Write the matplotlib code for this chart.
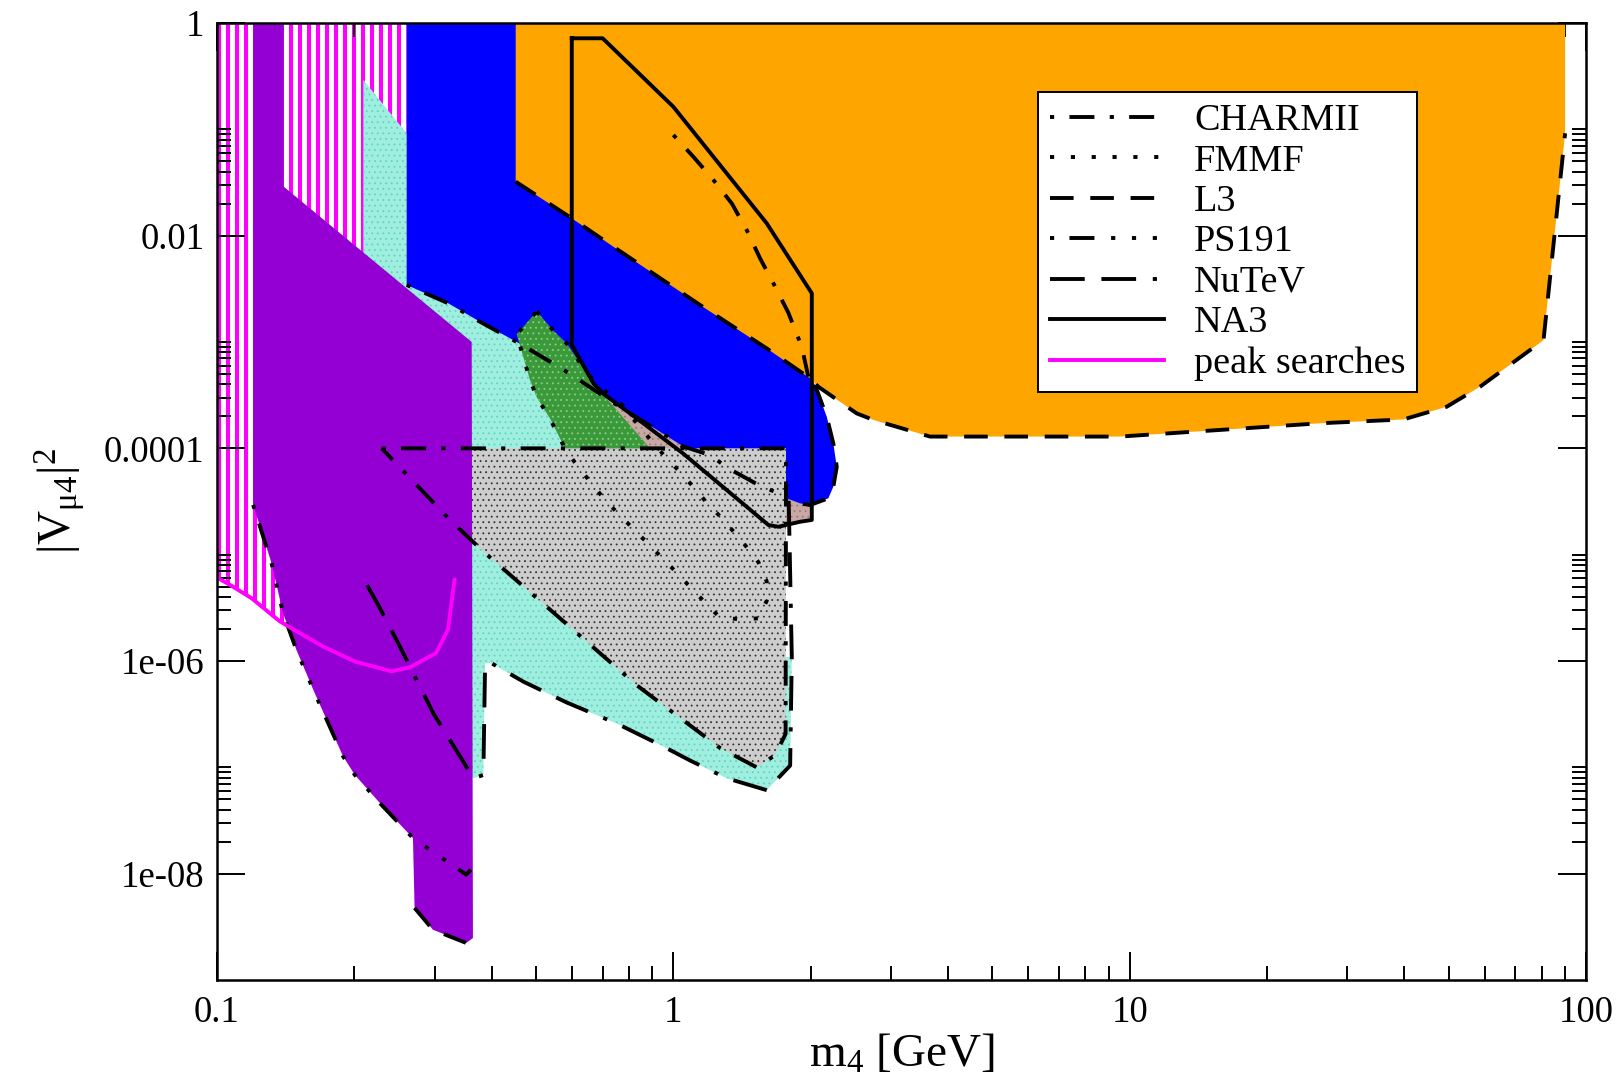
import numpy as np
import matplotlib
matplotlib.use("Agg")
import matplotlib.pyplot as plt
from matplotlib.lines import Line2D
from matplotlib.ticker import FixedLocator, FixedFormatter, NullFormatter

plt.rcParams["font.family"] = ["Liberation Serif", "DejaVu Serif"]
plt.rcParams["mathtext.fontset"] = "custom"
plt.rcParams["mathtext.rm"] = "Liberation Serif"
plt.rcParams["mathtext.it"] = "Liberation Serif:italic"
plt.rcParams["lines.scale_dashes"] = False
plt.rcParams["hatch.linewidth"] = 0.6

# ---- excluded regions (m4 in GeV, |V_mu4|^2) ----
# magenta/white striped area bounded below by the peak-search curve
stripe_m = [0.1, 0.2604, 0.2604, 0.2, 0.16, 0.145, 0.1373, 0.119, 0.1076, 0.1]
stripe_v = [1.0, 1.0, 2e-3, 1e-4, 1e-5, 2.1e-6, 2.36e-6, 3.9e-6, 5.1e-6, 6.1e-6]

peak_m = [0.100, 0.1076, 0.119, 0.1373, 0.1518, 0.1709, 0.2004, 0.2411, 0.2644, 0.3023, 0.3207, 0.3316]
peak_v = [6.1e-6, 5.1e-6, 3.9e-6, 2.36e-6, 1.83e-6, 1.37e-6, 9.9e-7, 8.0e-7, 8.7e-7, 1.19e-6, 1.97e-6, 5.8e-6]

ps191_m = [0.12, 0.14, 0.14, 0.3615, 0.3638, 0.3517, 0.2973, 0.271, 0.2688, 0.2292, 0.2004,
           0.1889, 0.1637, 0.1493, 0.1396, 0.1317, 0.12]
ps191_v = [1.0, 1.0, 0.0289, 1.0e-3, 2.48e-9, 2.23e-9, 2.97e-9, 4.76e-9, 2.16e-8, 4.45e-8, 8.5e-8,
           1.27e-7, 5.0e-7, 1.27e-6, 2.8e-6, 8.3e-6, 2.94e-5]
ps191_line_m = [0.12, 0.1317, 0.1396, 0.1493, 0.1637, 0.1889, 0.2004, 0.2292, 0.2688, 0.3517, 0.36]
ps191_line_v = [2.94e-5, 8.3e-6, 2.8e-6, 1.27e-6, 5.0e-7, 1.27e-7, 8.5e-8, 4.45e-8, 2.16e-8, 9.8e-9, 1.09e-8]
ps191_low_m = [0.271, 0.2973, 0.3517, 0.3638]
ps191_low_v = [4.76e-9, 2.97e-9, 2.23e-9, 2.48e-9]

aqua_m = [0.2093, 0.2604, 1.766, 1.76, 1.818, 1.803, 1.602, 1.309, 1.088, 0.951, 0.752, 0.584,
          0.469, 0.400, 0.3868, 0.3834, 0.3644, 0.2093]
aqua_v = [0.291, 0.0918, 1e-4, 1.09e-6, 1.09e-6, 1.04e-7, 6.1e-8, 7.9e-8, 1.16e-7, 1.57e-7, 2.58e-7,
          4.07e-7, 6.4e-7, 9.5e-7, 9.5e-7, 8.47e-8, 7.9e-8, 5.99e-6]

charm_m = [0.2296, 1.766, 1.762, 1.671, 1.523, 1.266, 0.832, 0.5646, 0.3834, 0.324]
charm_v = [1e-4, 1e-4, 2.06e-7, 1.3e-7, 1.0e-7, 1.52e-7, 5.9e-7, 2.52e-6, 1.07e-5, 2.12e-5]
charm_top_m = [0.2604, 0.3213, 0.3771, 0.4537, 0.4935, 0.5646, 0.6462, 0.7906, 0.889, 1.052,
               1.204, 1.319, 1.51, 1.729]
charm_top_v = [3.44e-3, 2.31e-3, 1.55e-3, 1.0e-3, 8.1e-4, 5.75e-4, 3.94e-4, 2.22e-4, 1.64e-4, 1.04e-4,
               8.65e-5, 6.49e-5, 4.72e-5, 3.64e-5]
charm_high_m = [1.0, 1.106, 1.224, 1.343, 1.448, 1.549, 1.657, 1.786, 1.912, 1.976]
charm_high_v = [0.0885, 0.0553, 0.0334, 0.0201, 0.0113, 6.12e-3, 3.56e-3, 1.89e-3, 9.0e-4, 4.72e-4]

nutev_m = [1.79, 1.818, 1.803, 1.602, 1.309, 1.088, 0.951, 0.752, 0.584, 0.469, 0.400, 0.3868,
           0.3834, 0.3644, 0.3466, 0.2979, 0.2518, 0.2276, 0.2093]
nutev_v = [3.2e-5, 1.09e-6, 1.04e-7, 6.1e-8, 7.9e-8, 1.16e-7, 1.57e-7, 2.58e-7, 4.07e-7, 6.4e-7,
           9.5e-7, 9.5e-7, 8.47e-8, 7.9e-8, 1.13e-7, 3.22e-7, 1.36e-6, 3.13e-6, 5.99e-6]

brown_m = [0.62, 2.011, 2.011, 1.895, 1.70, 1.616, 0.70]
brown_v = [6e-4, 4e-5, 2.12e-5, 2.04e-5, 1.83e-5, 1.9e-5, 1e-4]

blue_m = [0.2604, 0.60, 2.044, 2.169, 2.242, 2.281, 2.242, 2.186, 1.994, 1.895, 1.772] + charm_top_m[::-1]
blue_v = [1.0, 1.0, 3.94e-4, 1.98e-4, 1.11e-4, 6.7e-5, 4.36e-5, 3.39e-5, 2.93e-5, 3.04e-5, 3.39e-5] + charm_top_v[::-1]
bulge_m = [2.044, 2.169, 2.242, 2.281, 2.242, 2.186, 1.994, 1.895]
bulge_v = [3.94e-4, 1.98e-4, 1.11e-4, 6.7e-5, 4.36e-5, 3.39e-5, 2.93e-5, 3.04e-5]

green_m = [0.502, 0.5458, 0.584, 0.6462, 0.668, 0.889, 0.579, 0.5366, 0.502, 0.485, 0.4537]
green_v = [1.94e-3, 1.28e-3, 9.7e-4, 5.13e-4, 4.1e-4, 1e-4, 1e-4, 1.91e-4, 3.02e-4, 4.41e-4, 1.18e-3]

fmmf_m = [0.502, 0.5458, 0.584, 0.6462, 0.691, 0.771, 0.854, 0.954, 1.026, 1.097, 1.174, 1.261,
          1.350, 1.443, 1.536, 1.602, 1.602, 1.536, 1.389, 1.255, 1.168, 1.088, 1.014, 0.943,
          0.877, 0.815, 0.758, 0.705, 0.6626, 0.619, 0.579, 0.555, 0.5366, 0.502, 0.485, 0.4537, 0.502]
fmmf_v = [1.94e-3, 1.28e-3, 9.7e-4, 5.13e-4, 3.79e-4, 2.59e-4, 1.49e-4, 8.6e-5, 6.2e-5, 4.52e-5,
          3.21e-5, 2.33e-5, 1.68e-5, 1.20e-5, 8.5e-6, 5.6e-6, 3.68e-6, 2.52e-6, 2.46e-6, 2.65e-6,
          3.63e-6, 4.98e-6, 6.87e-6, 9.4e-6, 1.29e-5, 1.77e-5, 2.42e-5, 3.34e-5, 4.69e-5, 6.6e-5,
          1.0e-4, 1.41e-4, 1.91e-4, 3.02e-4, 4.41e-4, 1.18e-3, 1.94e-3]

l3_m = [0.4514, 0.4514, 0.599, 0.739, 1.144, 1.602, 1.994, 2.078, 2.523, 2.744, 3.652, 9.53,
        26.1, 39.8, 49.5, 58.6, 80.7, 90.0, 90.0]
l3_v = [1.0, 0.0322, 0.01456, 7.87e-3, 2.23e-3, 8.7e-4, 4.55e-4, 3.8e-4, 2.13e-4, 1.85e-4, 1.29e-4,
        1.29e-4, 1.72e-4, 1.87e-4, 2.46e-4, 3.8e-4, 1.04e-3, 0.0918, 1.0]

na3_m = [0.599, 0.700, 1.0, 1.602, 2.011, 2.011, 1.895, 1.70, 1.616, 1.052, 0.832, 0.7025, 0.668, 0.599, 0.599]
na3_v = [0.718, 0.718, 0.163, 0.01306, 2.87e-3, 2.12e-5, 2.04e-5, 1.83e-5, 1.9e-5, 8.9e-5, 1.91e-4,
         3.26e-4, 4.09e-4, 9.4e-4, 0.718]

x_major = [0.1, 1, 10, 100]
x_labels = ["0.1", "1", "10", "100"]
y_major = [1, 1e-2, 1e-4, 1e-6, 1e-8]
y_labels = ["1", "0.01", "0.0001", "1e-06", "1e-08"]

# ---- styles ----
LW = 2.8
CHARM_LS = (0, (3, 11, 18, 11))
FMMF_LS = (0, (3, 12))
L3_LS = (0, (17, 12))
PS191_LS = (0, (3, 11, 18, 12, 3, 12, 3, 12))
NUTEV_LS = (0, (25, 12, 25, 12, 3, 12))

fig = plt.figure(figsize=(16.21, 10.89), dpi=100)
ax = fig.add_axes([0.13387, 0.10009, 0.84454, 0.87879])
ax.set_xscale("log")
ax.set_yscale("log")
ax.set_xlim(0.1, 100)
ax.set_ylim(1e-9, 1)


def region(xs, ys, face, z, hatch=None, hatch_color="none"):
    patch, = ax.fill(xs, ys, facecolor=face, edgecolor=hatch_color, linewidth=0,
                     hatch=hatch, zorder=z)
    return patch


# striped band: white fill with magenta bars clipped to it
stripes = region(stripe_m, stripe_v, "white", 1)
pitch = 9.0 / 456.3
bar_x = 10 ** np.arange(-0.996, np.log10(0.27), pitch)
bars = ax.vlines(bar_x, 1e-9, 1, colors="magenta", linewidth=2.9, zorder=1)
bars.set_clip_path(stripes)

region(aqua_m, aqua_v, "#a0eedf", 2, "...", "#5fd6be")
region(brown_m, brown_v, "#c8a8a4", 3, "...", "#a07a78")
region(blue_m, blue_v, "#0000ff", 4)
region(charm_m, charm_v, "#cdcdcd", 5, "...", "#333333")
region(green_m, green_v, "#3a9a3a", 6, "...", "#8ccc8c")
region(l3_m, l3_v, "#ffa500", 7)
region(ps191_m, ps191_v, "#9400d3", 8)

# ---- exclusion contours ----
kw = dict(color="black", linewidth=LW, zorder=10)
ax.plot(charm_m + charm_m[:1], charm_v + charm_v[:1], linestyle=CHARM_LS, **kw)
ax.plot(charm_top_m, charm_top_v, linestyle=CHARM_LS, **kw)
ax.plot(charm_high_m, charm_high_v, linestyle=CHARM_LS, **kw)
ax.plot(fmmf_m, fmmf_v, linestyle=FMMF_LS, **kw)
ax.plot(l3_m[1:-1], l3_v[1:-1], linestyle=L3_LS, **kw)
ax.plot(bulge_m, bulge_v, linestyle=L3_LS, **kw)
ax.plot(ps191_low_m, ps191_low_v, linestyle=L3_LS, **kw)
ax.plot(ps191_line_m, ps191_line_v, linestyle=PS191_LS, **kw)
ax.plot(nutev_m, nutev_v, linestyle=NUTEV_LS, **kw)
ax.plot(na3_m, na3_v, linestyle="-", **kw)
ax.plot(peak_m, peak_v, color="magenta", linewidth=2.8, zorder=11)

# ---- axes ----
ax.xaxis.set_major_locator(FixedLocator(x_major))
ax.xaxis.set_major_formatter(FixedFormatter(x_labels))
ax.xaxis.set_minor_locator(FixedLocator([k * 10.0 ** e for e in (-1, 0, 1) for k in range(2, 10)]))
ax.xaxis.set_minor_formatter(NullFormatter())
ax.yaxis.set_major_locator(FixedLocator(y_major))
ax.yaxis.set_major_formatter(FixedFormatter(y_labels))
ax.yaxis.set_minor_locator(FixedLocator([k * 10.0 ** e for e in (-2, -4, -6, -8) for k in range(2, 11)]))
ax.yaxis.set_minor_formatter(NullFormatter())
ax.tick_params(which="both", direction="in", top=True, right=True, width=1.4, labelsize=26.5)
ax.tick_params(which="major", length=20)
ax.tick_params(which="minor", length=10)
ax.tick_params(axis="x", pad=11)
ax.tick_params(axis="y", pad=9)
for spine in ax.spines.values():
    spine.set_linewidth(1.8)
    spine.set_zorder(12)

fig.text(0.5562, 0.0202, r"$\mathregular{m_4}$ [GeV]", fontsize=34, ha="center", va="baseline")
fig.text(0.0440, 0.5395, r"$\mathregular{|V_{μ4}|^2}$", fontsize=34, rotation=90,
         rotation_mode="anchor", ha="center", va="baseline")

handles = [
    Line2D([], [], color="black", lw=LW, ls=CHARM_LS),
    Line2D([], [], color="black", lw=LW, ls=FMMF_LS),
    Line2D([], [], color="black", lw=LW, ls=L3_LS),
    Line2D([], [], color="black", lw=LW, ls=PS191_LS),
    Line2D([], [], color="black", lw=LW, ls=NUTEV_LS),
    Line2D([], [], color="black", lw=LW, ls="-"),
    Line2D([], [], color="magenta", lw=LW),
]
names = ["CHARMII", "FMMF", "L3", "PS191", "NuTeV", "NA3", "peak searches"]
leg = ax.legend(handles, names, loc="upper left", bbox_to_anchor=(0.600, 0.928), borderaxespad=0,
                fontsize=27.5, handlelength=3.0, handletextpad=0.78, labelspacing=0.15,
                borderpad=0.3, fancybox=False, framealpha=1, edgecolor="black")
leg.get_frame().set_linewidth(1.4)
leg.set_zorder(20)

fig.savefig("out.png", dpi=100)
